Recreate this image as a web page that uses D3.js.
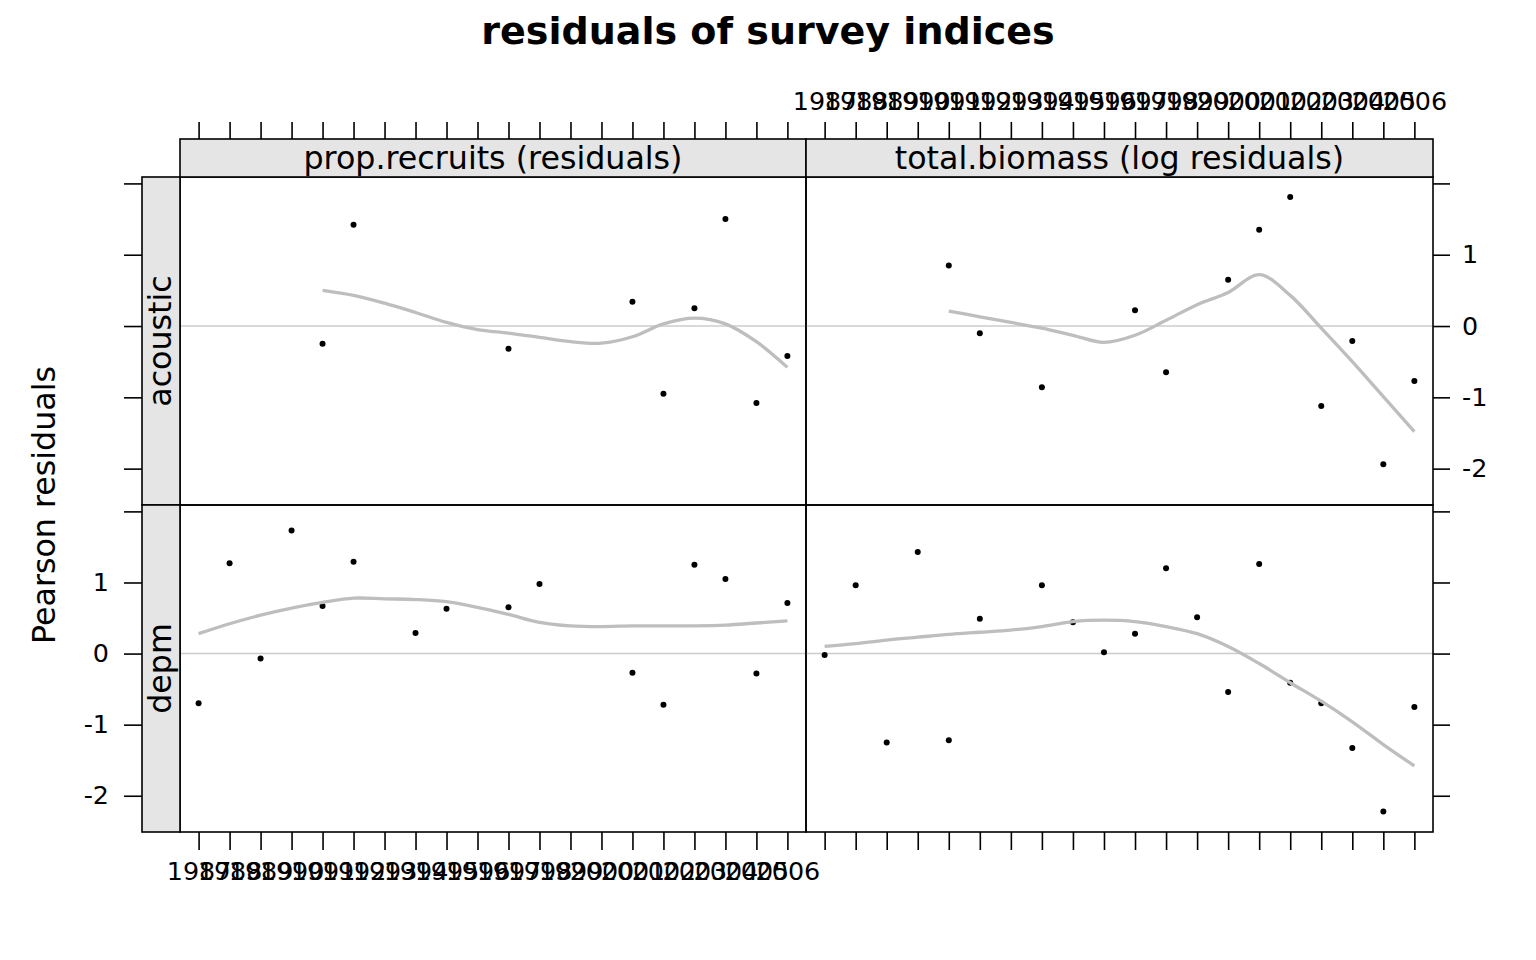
<!DOCTYPE html>
<html>
<head>
<meta charset="utf-8">
<script src="https://cdn.jsdelivr.net/npm/d3@7"></script>
<style>
  html, body { margin: 0; padding: 0; background: #ffffff; }
  svg { display: block; }
  text { font-family: "DejaVu Sans", sans-serif; fill: #000; }
</style>
</head>
<body>
<svg id="chart" width="1536" height="960"></svg>
<script>
// ---------------- data ----------------
const years = [1987,1988,1989,1990,1991,1992,1993,1994,1995,1996,1997,1998,1999,2000,2001,2002,2003,2004,2005,2006];
const columns = ["prop.recruits (residuals)", "total.biomass (log residuals)"];
const rows = ["acoustic", "depm"];
const yTicks = [-2, -1, 0, 1, 2];
const yLabelled = [-2, -1, 0, 1];

// residuals (null = no observation)
const propAcoustic     = [null,null,null,null,-0.25,1.42,null,null,null,null,-0.32,null,null,null,0.34,-0.95,0.25,1.50,-1.08,-0.42];
const biomassAcoustic  = [null,null,null,null,0.85,-0.10,null,-0.86,null,null,0.22,-0.65,null,0.65,1.35,1.81,-1.12,-0.21,-1.94,-0.77];
const propDepm         = [-0.70,1.27,-0.07,1.73,0.67,1.29,null,0.29,0.63,null,0.65,0.98,null,null,-0.27,-0.72,1.25,1.05,-0.28,0.71];
const biomassDepm      = [-0.02,0.96,-1.25,1.43,-1.22,0.49,null,0.96,0.44,0.02,0.28,1.20,0.51,-0.54,1.26,-0.41,-0.70,-1.33,-2.22,-0.75];

// loess smooth
const propAcousticSmooth    = [null,null,null,null,0.50,0.43,0.32,0.19,0.05,-0.05,-0.10,-0.16,-0.22,-0.24,-0.15,0.03,0.11,0.03,-0.22,-0.58];
const biomassAcousticSmooth = [null,null,null,null,0.21,0.13,0.05,-0.03,-0.13,-0.23,-0.13,0.08,0.30,0.47,0.72,0.43,-0.03,-0.50,-0.99,-1.48];
const propDepmSmooth        = [0.28,0.42,0.54,0.64,0.72,0.78,0.77,0.76,0.73,0.65,0.55,0.44,0.39,0.38,0.39,0.39,0.39,0.40,0.43,0.46];
const biomassDepmSmooth     = [0.10,0.14,0.19,0.23,0.27,0.30,0.33,0.38,0.45,0.47,0.45,0.38,0.28,0.10,-0.14,-0.41,-0.67,-0.96,-1.28,-1.58];

const panelData = [
  [ {pts: propAcoustic, sm: propAcousticSmooth}, {pts: biomassAcoustic, sm: biomassAcousticSmooth} ],
  [ {pts: propDepm,     sm: propDepmSmooth},     {pts: biomassDepm,     sm: biomassDepmSmooth} ]
];

// ---------------- layout ----------------
const colX = [[180, 806], [806, 1433]];
const rowY = [[177, 505], [505, 832]];
const stripLeft = [142, 180];
const stripTop = [139, 177];
const tick = 18;
const stripFill = "#e5e5e5";
const axisFont = 25.4;
const baseFont = 31.7;

const svg = d3.select("#chart");
svg.append("rect").attr("width", 1536).attr("height", 960).attr("fill", "#fff");

const xScales = colX.map(r => d3.scaleLinear().domain([years[0] - 0.6, years[years.length - 1] + 0.6]).range(r));
const yScales = rowY.map(r => d3.scaleLinear().domain([-2.51, 2.09]).range([r[1], r[0]]));

// title
svg.append("text")
  .attr("x", 768).attr("y", 44)
  .attr("text-anchor", "middle")
  .style("font-size", (baseFont * 1.2) + "px")
  .style("font-weight", "bold")
  .text("residuals of survey indices");

// y axis title
svg.append("text")
  .attr("transform", "translate(55,505) rotate(-90)")
  .attr("text-anchor", "middle")
  .style("font-size", baseFont + "px")
  .text("Pearson residuals");

// panels
rows.forEach((rowName, ri) => {
  columns.forEach((colName, ci) => {
    const xs = xScales[ci], ys = yScales[ri];
    const d = panelData[ri][ci];
    const g = svg.append("g");
    // zero reference line
    g.append("line")
      .attr("x1", colX[ci][0]).attr("x2", colX[ci][1])
      .attr("y1", ys(0)).attr("y2", ys(0))
      .attr("stroke", "#cccccc").attr("stroke-width", 1.6);
    // points
    const pts = years.map((y, i) => ({y, v: d.pts[i]})).filter(p => p.v !== null);
    g.selectAll("circle").data(pts).enter().append("circle")
      .attr("cx", p => xs(p.y)).attr("cy", p => ys(p.v))
      .attr("r", 3).attr("fill", "#000");
    // smooth
    const sm = years.map((y, i) => ({y, v: d.sm[i]})).filter(p => p.v !== null);
    g.append("path")
      .datum(sm)
      .attr("fill", "none")
      .attr("stroke", "#bebebe")
      .attr("stroke-width", 3.3)
      .attr("stroke-linejoin", "round")
      .attr("d", d3.line().x(p => xs(p.y)).y(p => ys(p.v)).curve(d3.curveCatmullRom.alpha(0.5)));
    // panel border
    g.append("rect")
      .attr("x", colX[ci][0]).attr("y", rowY[ri][0])
      .attr("width", colX[ci][1] - colX[ci][0]).attr("height", rowY[ri][1] - rowY[ri][0])
      .attr("fill", "none").attr("stroke", "#000").attr("stroke-width", 1.6);
  });
  // left strip
  svg.append("rect")
    .attr("x", stripLeft[0]).attr("y", rowY[ri][0])
    .attr("width", stripLeft[1] - stripLeft[0]).attr("height", rowY[ri][1] - rowY[ri][0])
    .attr("fill", stripFill).attr("stroke", "#000").attr("stroke-width", 1.6);
  svg.append("text")
    .attr("transform", `translate(171,${(rowY[ri][0] + rowY[ri][1]) / 2}) rotate(-90)`)
    .attr("text-anchor", "middle")
    .style("font-size", baseFont + "px")
    .text(rowName);
});

// top strips
columns.forEach((colName, ci) => {
  svg.append("rect")
    .attr("x", colX[ci][0]).attr("y", stripTop[0])
    .attr("width", colX[ci][1] - colX[ci][0]).attr("height", stripTop[1] - stripTop[0])
    .attr("fill", stripFill).attr("stroke", "#000").attr("stroke-width", 1.6);
  svg.append("text")
    .attr("x", (colX[ci][0] + colX[ci][1]) / 2).attr("y", 169)
    .attr("text-anchor", "middle")
    .style("font-size", baseFont + "px")
    .text(colName);
});

// axes
function styleAxis(sel) {
  sel.select(".domain").remove();
  sel.selectAll(".tick line").attr("stroke", "#000").attr("stroke-width", 1.6);
  sel.selectAll(".tick text").style("font-family", '"DejaVu Sans", sans-serif').style("font-size", axisFont + "px").attr("fill", "#000");
}
const yFmtLab = v => yLabelled.includes(v) ? String(v) : "";
rows.forEach((rowName, ri) => {
  // left
  svg.append("g").attr("transform", `translate(${stripLeft[0]},0)`)
    .call(d3.axisLeft(yScales[ri]).tickValues(yTicks).tickSize(tick).tickPadding(15)
      .tickFormat(ri === 1 ? yFmtLab : () => ""))
    .call(styleAxis);
  // right
  svg.append("g").attr("transform", `translate(${colX[1][1]},0)`)
    .call(d3.axisRight(yScales[ri]).tickValues(yTicks).tickSize(tick - 1).tickPadding(12)
      .tickFormat(ri === 0 ? yFmtLab : () => ""))
    .call(styleAxis);
});
columns.forEach((colName, ci) => {
  svg.append("g").attr("transform", `translate(0,${rowY[1][1]})`)
    .call(d3.axisBottom(xScales[ci]).tickValues(years).tickSize(tick).tickPadding(12)
      .tickFormat(ci === 0 ? d => String(d) : () => ""))
    .call(styleAxis);
  svg.append("g").attr("transform", `translate(0,${stripTop[0]})`)
    .call(d3.axisTop(xScales[ci]).tickValues(years).tickSize(tick - 1).tickPadding(12)
      .tickFormat(ci === 1 ? d => String(d) : () => ""))
    .call(styleAxis);
});
svg.selectAll("g.tick text").attr("fill", "#000");
</script>
</body>
</html>
